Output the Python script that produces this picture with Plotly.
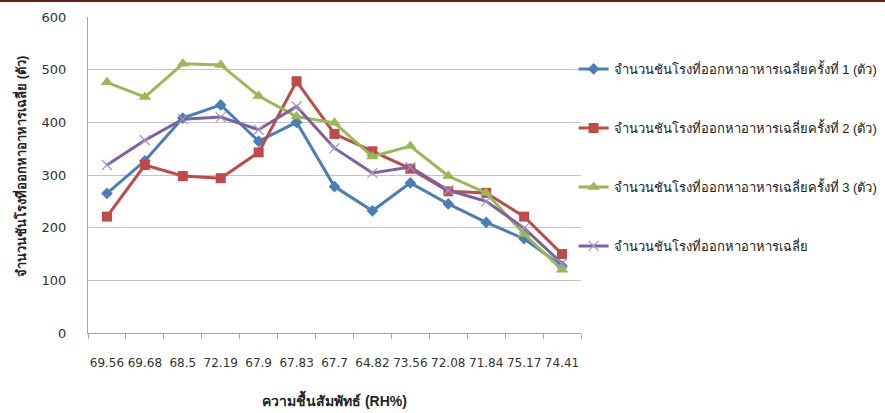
import plotly.graph_objects as go

categories = ["69.56", "69.68", "68.5", "72.19", "67.9", "67.83", "67.7",
              "64.82", "73.56", "72.08", "71.84", "75.17", "74.41"]
round1 = [265, 327, 408, 433, 364, 400, 278, 232, 285, 245, 210, 179, 127]
round2 = [221, 319, 298, 294, 343, 478, 378, 345, 312, 269, 266, 221, 150]
round3 = [476, 448, 511, 509, 450, 411, 399, 335, 355, 298, 266, 188, 120]
average = [319, 366, 406, 410, 386, 430, 351, 304, 315, 271, 250, 199, 132]

names = [
    "จำนวนชันโรงที่ออกหาอาหารเฉลี่ยครั้งที่ 1 (ตัว)",
    "จำนวนชันโรงที่ออกหาอาหารเฉลี่ยครั้งที่ 2 (ตัว)",
    "จำนวนชันโรงที่ออกหาอาหารเฉลี่ยครั้งที่ 3 (ตัว)",
    "จำนวนชันโรงที่ออกหาอาหารเฉลี่ย",
]
y_ticks = [0, 100, 200, 300, 400, 500, 600]
x_title = "ความชื้นสัมพัทธ์ (RH%)"
y_title = "จำนวนชันโรงที่ออกหาอาหารเฉลี่ย (ตัว)"

FONT = "'Liberation Sans', Arial, 'Noto Sans', sans-serif"
TICKFONT = "'DejaVu Sans', 'Liberation Sans', sans-serif"

fig = go.Figure()
styles = [
    dict(color="#4a7ebb", symbol="diamond", size=9, lcolor="#4a7ebb", lw=0),
    dict(color="#be4b48", symbol="square", size=10, lcolor="#be4b48", lw=0),
    dict(color="#98b954", symbol="triangle-up", size=11, lcolor="#98b954", lw=0),
    dict(color="#7d60a0", symbol="x-thin", size=10, lcolor="#a594c4", lw=1.2),
]
series = [round1, round2, round3, average]
legends = ["legend", "legend2", "legend3", "legend4"]
for s, st, nm, lg in zip(series, styles, names, legends):
    fig.add_trace(go.Scatter(
        x=categories, y=s, name=nm, mode="lines+markers",
        line=dict(color=st["color"], width=3),
        marker=dict(symbol=st["symbol"], size=st["size"], color=st["color"],
                    line=dict(color=st["lcolor"], width=st["lw"])),
        legend=lg,
    ))

plot_w = 492.7
plot_h = 316
leg_y = [69, 128, 187, 246]
leg_common = dict(xanchor="left", yanchor="middle", x=0.985,
                  font=dict(family=FONT, size=13, color="#222222"),
                  bgcolor="rgba(0,0,0,0)", itemwidth=30)
leg_layout = {}
for lg, py in zip(legends, leg_y):
    d = dict(leg_common)
    d["y"] = (333 - py) / plot_h
    leg_layout[lg] = d

fig.update_layout(
    width=885, height=413,
    margin=dict(l=88, r=304, t=17, b=80, autoexpand=False),
    paper_bgcolor="white", plot_bgcolor="white",
    font=dict(family=FONT, size=12, color="#222222"),
    showlegend=True,
    **leg_layout,
    xaxis=dict(
        type="category", categoryorder="array", categoryarray=categories,
        showgrid=False, showline=True, linecolor="#a6a6a6", linewidth=1,
        ticks="outside", ticklen=5, tickcolor="#a6a6a6", tickson="boundaries",
        ticklabelstandoff=19, tickangle=0, automargin=False,
        tickfont=dict(family=TICKFONT, size=12, color="#333333"),
        range=[-0.5, 12.5],
    ),
    yaxis=dict(
        range=[0, 600], tickvals=y_ticks, automargin=False,
        showgrid=True, gridcolor="#c4c4c4", gridwidth=1,
        showline=True, linecolor="#a6a6a6", linewidth=1,
        ticks="", ticklabelstandoff=18, zeroline=False,
        tickfont=dict(family=TICKFONT, size=13, color="#333333"),
    ),
    annotations=[
        dict(text="<b>" + x_title + "</b>", xref="paper", yref="paper",
             x=0.5, y=(333 - 399) / plot_h, xanchor="center", yanchor="middle",
             showarrow=False, font=dict(family=FONT, size=14, color="#222222")),
        dict(text="<b>" + y_title + "</b>", xref="paper", yref="paper",
             x=(20 - 88) / plot_w, y=(333 - 166) / plot_h, textangle=-90,
             xanchor="center", yanchor="middle",
             showarrow=False, font=dict(family=FONT, size=13, color="#222222")),
    ],
    shapes=[dict(type="rect", xref="paper", yref="paper",
                 x0=-88 / plot_w, x1=(885 - 88) / plot_w,
                 y0=(333 - 2) / plot_h, y1=(333 + 1) / plot_h,
                 fillcolor="#6b1c1c", line=dict(width=0), layer="above")],
)

fig.write_html("out.html", config={"displayModeBar": False},
               post_script="document.body.style.margin='0';")
